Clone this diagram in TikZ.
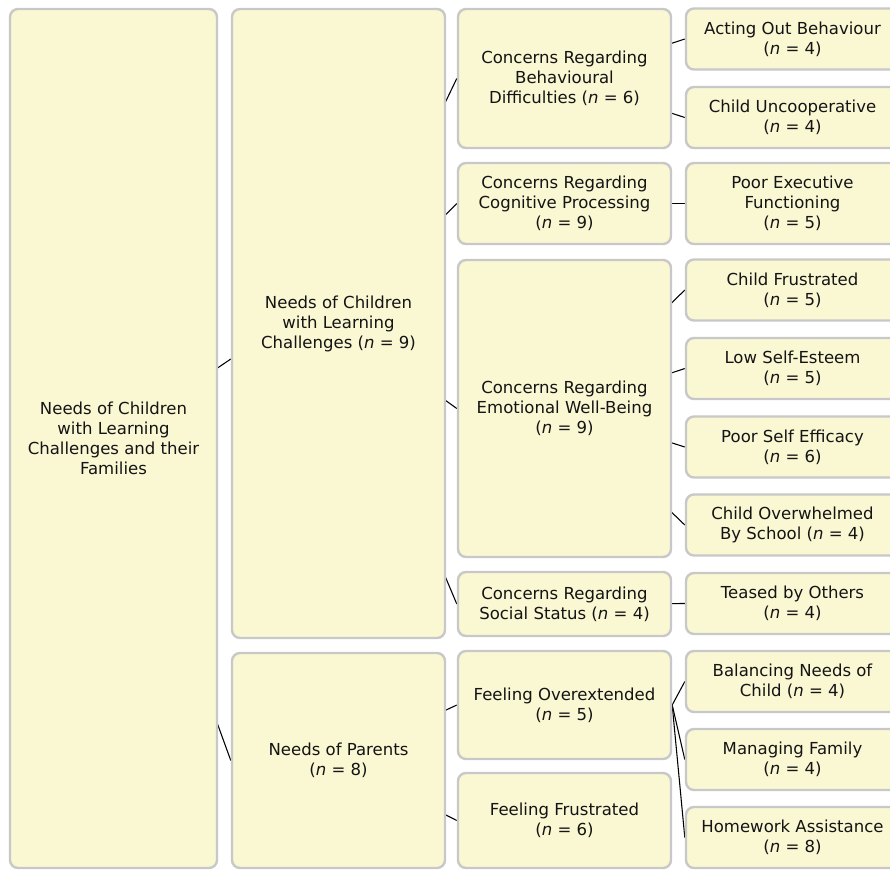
\documentclass[tikz,border=0pt]{standalone}
\usepackage{fontspec}
\setmainfont{DejaVu Sans}
\usetikzlibrary{backgrounds,calc}
\definecolor{boxfill}{HTML}{FAF7D3}
\definecolor{boxline}{HTML}{C8C8C8}
\definecolor{boxtext}{HTML}{141414}
\newcommand{\pxu}{0.75pt}

\begin{document}
\begin{tikzpicture}[x=0.75pt, y=-0.75pt,
    box/.style={draw=boxline, line width=1.8pt, fill=boxfill, rounded corners=6pt,
        align=center, inner sep=0pt, text=boxtext, font=\fontsize{12.4}{15}\selectfont},
    colbox/.style={box, minimum width=213*\pxu},
    leafbox/.style={box, minimum width=213*\pxu, minimum height=61*\pxu},
    link/.style={line width=0.8pt, black}]

    % Frame
    \useasboundingbox (0,0) rectangle (890,869);
    \clip (0,0) rectangle (890,869);

    % Level 1
    \node[box, minimum width=207*\pxu, minimum height=859*\pxu] (root) at (113.5,438.5)
        {Needs of Children\\with Learning\\Challenges and their\\Families};

    % Level 2
    \node[colbox, minimum height=629*\pxu] (kids) at (338.5,323.5)
        {Needs of Children\\with Learning\\Challenges (\textit{n} = 9)};
    \node[colbox, minimum height=215*\pxu] (parents) at (338.5,760.5)
        {Needs of Parents\\(\textit{n} = 8)};

    % Level 3
    \node[colbox, minimum height=139*\pxu] (behav) at (564.5,78.5)
        {Concerns Regarding\\Behavioural\\Difficulties (\textit{n} = 6)};
    \node[colbox, minimum height=81*\pxu] (cogn) at (564.5,203.5)
        {Concerns Regarding\\Cognitive Processing\\(\textit{n} = 9)};
    \node[colbox, minimum height=297*\pxu] (emot) at (564.5,408.5)
        {Concerns Regarding\\Emotional Well-Being\\(\textit{n} = 9)};
    \node[colbox, minimum height=64*\pxu] (social) at (564.5,604)
        {Concerns Regarding\\Social Status (\textit{n} = 4)};
    \node[colbox, minimum height=108*\pxu] (overext) at (564.5,705)
        {Feeling Overextended\\(\textit{n} = 5)};
    \node[colbox, minimum height=95*\pxu] (frustr) at (564.5,820.5)
        {Feeling Frustrated\\(\textit{n} = 6)};

    % Level 4
    \node[leafbox] (acting) at (792.5,39) {Acting Out Behaviour\\(\textit{n} = 4)};
    \node[leafbox] (uncoop) at (792.5,117.5) {Child Uncooperative\\(\textit{n} = 4)};
    \node[leafbox, minimum height=81*\pxu] (exec) at (792.5,203.5)
        {Poor Executive\\Functioning\\(\textit{n} = 5)};
    \node[leafbox] (cfrus) at (792.5,290) {Child Frustrated\\(\textit{n} = 5)};
    \node[leafbox] (lowse) at (792.5,368.5) {Low Self-Esteem\\(\textit{n} = 5)};
    \node[leafbox] (selfeff) at (792.5,447) {Poor Self Efficacy\\(\textit{n} = 6)};
    \node[leafbox] (overwh) at (792.5,525) {Child Overwhelmed\\By School (\textit{n} = 4)};
    \node[leafbox] (teased) at (792.5,603.5) {Teased by Others\\(\textit{n} = 4)};
    \node[leafbox] (balance) at (792.5,681.5) {Balancing Needs of\\Child (\textit{n} = 4)};
    \node[leafbox] (managing) at (792.5,759.5) {Managing Family\\(\textit{n} = 4)};
    \node[leafbox] (homework) at (792.5,837.5) {Homework Assistance\\(\textit{n} = 8)};

    % Connectors
    \begin{scope}[on background layer]
        \draw[link] (root.center) -- ($(kids.west)+(0,35.5)$);
        \draw[link] (root.center) -- (parents.west);
        \foreach \c in {behav,cogn,emot,social}
            \draw[link] (kids.center) -- (\c.west);
        \foreach \c in {overext,frustr}
            \draw[link] (parents.center) -- (\c.west);
        \foreach \c in {acting,uncoop}
            \draw[link] (behav.center) -- (\c.west);
        \draw[link] (cogn.center) -- (exec.west);
        \foreach \c in {cfrus,lowse,selfeff,overwh}
            \draw[link] (emot.center) -- (\c.west);
        \draw[link] (social.center) -- (teased.west);
        \foreach \c in {balance,managing,homework}
            \draw[link] (overext.east) -- (\c.west);
    \end{scope}
\end{tikzpicture}
\end{document}
